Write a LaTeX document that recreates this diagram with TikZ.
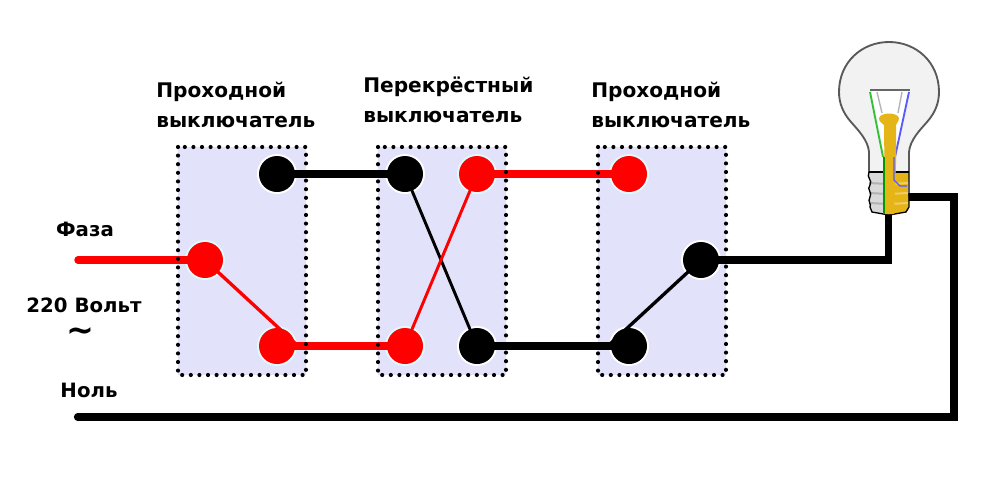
\documentclass[tikz,border=0pt]{standalone}
\usepackage{fontspec}
\setmainfont{DejaVu Sans}
\usetikzlibrary{backgrounds}
\pgfdeclarelayer{back}
\pgfsetlayers{back,background,main}
\tikzset{
 dots/.style={draw=black,line width=3.1pt,dash pattern=on 0pt off 6.45pt,line cap=round},
 term/.style={circle,minimum size=36*0.75pt,inner sep=0,draw=none},
 rterm/.style={term,fill=red},
 kterm/.style={term,fill=black},
 wire/.style={line width=5.6pt,line cap=butt},
 arm/.style={line width=2.5pt},
 lbl/.style={font=\bfseries\fontsize{15.1pt}{22.4pt}\selectfont,align=left,inner sep=0,anchor=north west},
 lbs/.style={font=\bfseries\fontsize{14.8pt}{20pt}\selectfont,inner sep=0}
}
\definecolor{swfill}{HTML}{E2E2FB}
\definecolor{termhaloR}{HTML}{DFFBFB}
\definecolor{bulbglass}{HTML}{F2F2F2}
\definecolor{brass}{HTML}{E5B416}
\begin{document}
\begin{tikzpicture}[x=0.75pt,y=-0.75pt]
\useasboundingbox (0,0) rectangle (1000,500);
% boxes
\begin{pgfonlayer}{back}
\foreach \xa in {178,378,598}{
 \fill[swfill] (\xa,147) rectangle ++(128,228);
}
\end{pgfonlayer}
% free ends
\coordinate (fa) at (78,260);
\coordinate (no) at (78,417);
\coordinate (nc) at (954,417);
\coordinate (nd) at (954,197);
\coordinate (be) at (905,197);
\coordinate (lc) at (888.5,260);
\coordinate (lb) at (888.5,210);
\coordinate (armA) at (296,344);
\coordinate (armC) at (610,344);
% terminals
\node[rterm] (a2) at (205,260) {};
\node[kterm] (a1) at (277,174) {};
\node[rterm] (a3) at (277,346) {};
\node[kterm] (b1) at (405,174) {};
\node[rterm] (b2) at (477,174) {};
\node[rterm] (b3) at (405,346) {};
\node[kterm] (b4) at (477,346) {};
\node[rterm] (c1) at (629,174) {};
\node[kterm] (c2) at (701,260) {};
\node[kterm] (c3) at (629,346) {};
\begin{pgfonlayer}{back}
\foreach \nn in {a2,a3,b2,b3,c1}{\fill[termhaloR] (\nn) circle (20);}
\foreach \nn in {a1,b1,b4,c2,c3}{\fill[white] (\nn) circle (20);}
\end{pgfonlayer}
% wires
\begin{pgfonlayer}{background}
\draw[wire,red,line cap=round] (fa) -- (a2.center);
\draw[wire,red] (a3.center) -- (b3.center);
\draw[wire,red] (b2.center) -- (c1.center);
\draw[wire,black] (a1.center) -- (b1.center);
\draw[wire,black] (b4.center) -- (c3.center);
\draw[wire,black,line join=miter] (c2.center) -- (lc) -- (lb);
\draw[line width=6.2pt,black,line join=miter] (no) -- (nc) -- (nd) -- (be);
\fill[black] (no) circle (3.1pt);
\draw[arm,red] (a2.center) -- (armA);
\draw[arm,black] (c2.center) -- (armC);
\draw[line width=2.2pt,black] (b1.center) -- (b4.center);
\draw[line width=2.2pt,red] (b2.center) -- (b3.center);
\end{pgfonlayer}
\foreach \xa in {178,378,598}{
 \draw[dots] (\xa,147) rectangle ++(128,228);
}
% bulb
\path[fill=bulbglass,draw=black!65,line width=1.4pt] (869,172) -- (869,152)
 .. controls (868,140) and (858,130) .. (851,122)
 .. controls (843,113) and (839,103) .. (839,92)
 .. controls (839,62) and (862,42) .. (889,42)
 .. controls (916,42) and (939,62) .. (939,92)
 .. controls (939,103) and (935,113) .. (927,122)
 .. controls (920,130) and (910,140) .. (909,152) -- (909,172);
\fill[white] (871,90) -- (909,90) -- (897,150) -- (883,150) -- cycle;
\draw[black!60,line width=1.5pt] (870,90) -- (910,90);
\draw[black!30,line width=1pt] (877,92) -- (882,113) (902,92) -- (898,113);
\draw[green!70!black!80,line width=1.4pt] (870,92) -- (883,157);
\draw[blue!65,line width=1.4pt] (909,92) -- (895,157);
% base
\fill[brass] (889,172) -- (909,172) -- (908,190) -- (909,205) -- (906,212) -- (889,215) -- cycle;
\fill[black!15] (889,172) -- (869,172) -- (870,190) -- (869,205) -- (872,212) -- (889,215) -- cycle;
\draw[black,line width=1.2pt] (869,172) -- (909,172);
\foreach \yy in {183,193,203}{
 \draw[white!70!black,line width=1.5pt] (869,\yy) -- (889,\yy+1);
 \draw[brass!65!white,line width=1.5pt] (889,\yy+1) -- (908,\yy);
}
\draw[black,line width=1pt] (869,172) .. controls (866,178) and (873,180) .. (870,185) .. controls (866,190) and (873,192) .. (870,197) .. controls (867,202) and (872,204) .. (870,207) -- (872,212) -- (889,215) -- (906,212) -- (909,207) -- (909,172);
\fill[brass] (879,118) .. controls (881,112) and (897,112) .. (899,118) .. controls (899,122) and (896,123) .. (896,125) -- (896,165) -- (894,214) -- (885,214) -- (884,125) .. controls (882,123) and (879,122) .. (879,118) -- cycle;
\draw[blue!65,line width=.9pt] (894,157) -- (894,180) -- (900,186) -- (907,186);
\draw[green!60!black,line width=1.2pt] (884,157) -- (884,214);
% labels
\node[lbl] (t1) at (156,82) {Проходной\\выключатель};
\node[lbl] (t2) at (363,77) {Перекрёстный\\выключатель};
\node[lbl] (t3) at (591,82) {Проходной\\выключатель};
\node[lbs] (t4) at (85,229) {Фаза};
\node[lbs] (t5) at (84,305) {220 Вольт};
\node[font=\bfseries\fontsize{25pt}{20pt}\selectfont,inner sep=0] (t6) at (80,335) {\char"007E};
\node[lbs] (t7) at (89,390) {Ноль};
\end{tikzpicture}
\end{document}
